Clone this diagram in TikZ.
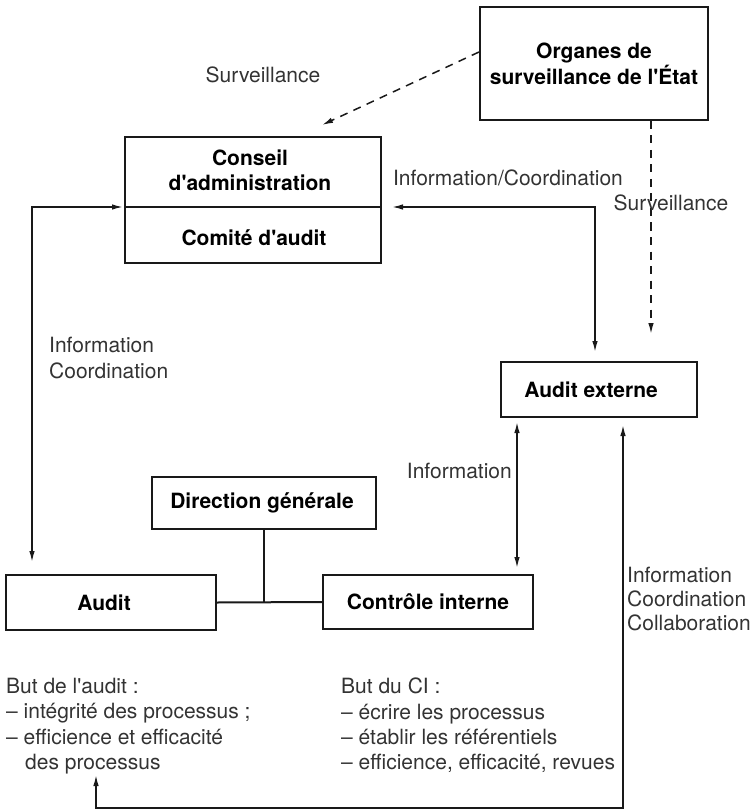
\documentclass[tikz,border=0pt]{standalone}
\usepackage{fontspec}
\setmainfont{TeX Gyre Heros}
\usetikzlibrary{arrows.meta}
\newcommand{\apo}{\textquotesingle}
\begin{document}
\begin{tikzpicture}[x=1pt,y=-1pt,
  box/.style={draw=black!90, line width=2pt, inner sep=0pt, align=center,
    font=\fontsize{21}{25.5}\selectfont\bfseries},
  btxt/.style={inner sep=0pt, align=center, font=\fontsize{21}{25.5}\selectfont\bfseries},
  lbl/.style={inner sep=0pt, text=black!80, align=left, font=\fontsize{21}{25.5}\selectfont},
  conn/.style={line width=1.5pt, draw=black!90},
  dashline/.style={conn, dash pattern=on 8pt off 6.5pt},
  tipend/.style={-{Latex[length=11pt,width=5.5pt]}},
  tipboth/.style={{Latex[length=11pt,width=5.5pt]}-{Latex[length=11pt,width=5.5pt]}}
]
\useasboundingbox (0,0) rectangle (752,810);

% boxes
\node[box, minimum width=228pt, minimum height=113pt, font=\fontsize{21}{26}\selectfont\bfseries]
  (org) at (594,63.5) {Organes de\\surveillance de l\apo État};
\node[box, minimum width=256pt, minimum height=126pt] (ca) at (253,200) {};
\node[btxt] (cat) at (250,170.5) {Conseil\\d\apo administration};
\node[btxt] (com) at (254,238) {Comité d\apo audit};
\node[box, minimum width=196pt, minimum height=55pt] (ae) at (599,389.5) {Audit externe\hspace{16pt}};
\node[box, minimum width=224pt, minimum height=52pt] (dg) at (264,503) {Direction générale\hspace{4pt}};
\node[box, minimum width=210pt, minimum height=55pt] (au) at (111,602.5) {Audit\hspace{14pt}};
\node[box, minimum width=210pt, minimum height=54pt] (ci) at (428,602) {Contrôle interne};

% divider in the board box
\coordinate (divl) at (ca.west |- 0,207);
\coordinate (divr) at (ca.east |- 0,207);
\draw[line width=2.5pt, black!90] (divl) -- (divr);

% coordinates for connectors
\coordinate (d1s) at (org.west |- 0,52);
\coordinate (d1e) at (322,125);
\coordinate (d2s) at (org.south -| 651,0);
\coordinate (d2e) at (651,334);
\coordinate (c3a) at (392,207);
\coordinate (c3b) at (595,207);
\coordinate (c3c) at (595,352);
\coordinate (c4a) at (123,207);
\coordinate (c4b) at (32,207);
\coordinate (c4c) at (32,562);
\coordinate (c5a) at (517,422);
\coordinate (c5b) at (517,568);
\coordinate (c6a) at (623,425);
\coordinate (c6b) at (623,808);
\coordinate (c6c) at (96,808);
\coordinate (c6d) at (96,775);
\coordinate (jn) at (dg.south |- 0,602);

% connectors
\draw[dashline, tipend] (d1s) -- (d1e);
\draw[dashline, tipend] (d2s) -- (d2e);
\draw[conn, tipboth] (c3a) -- (c3b) -- (c3c);
\draw[conn, tipboth] (c4a) -- (c4b) -- (c4c);
\draw[conn, tipboth] (c5a) -- (c5b);
\draw[conn, tipboth] (c6a) -- (c6b) -- (c6c) -- (c6d);
\draw[line width=2pt, black!90] (dg.south) -- (jn);
\draw[line width=2pt, black!90] (au.east) -- (ci.west);

% labels
\node[lbl] (l1) at (263,75) {Surveillance};
\node[lbl] (l2) at (508,178) {Information/Coordination};
\node[lbl] (l3) at (671,203) {Surveillance};
\node[lbl, anchor=north west] (l4) at (49,337) {Information\\Coordination};
\node[lbl, anchor=east] (l5) at (512,471) {Information};
\node[lbl, anchor=north west, font=\fontsize{21}{24}\selectfont] (l6) at (627,567)
  {Information\\Coordination\\Collaboration};
\node[lbl, anchor=north west, font=\fontsize{21}{25.3}\selectfont] (l7) at (6,678)
  {But de l\apo audit :\\– intégrité des processus ;\\– efficience et efficacité\\\hspace*{19pt}des processus};
\node[lbl, anchor=north west, font=\fontsize{21}{25.3}\selectfont] (l8) at (341,678)
  {But du CI :\\– écrire les processus\\– établir les référentiels\\– efficience, efficacité, revues};
\end{tikzpicture}
\end{document}
